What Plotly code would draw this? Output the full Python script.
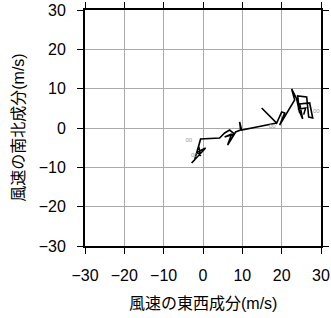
import plotly.graph_objects as go

# Wind hodograph: east-west (u) and north-south (v) components, m/s
u = [-0.61, -2.14, -2.90, 0.66, -1.37, -0.61, -1.10, -0.61, 4.22, 5.50, 6.77, 8.04, 5.50, 7.28, 6.26,
     8.30, 9.57, 9.31, 9.82, 18.73, 14.91, 18.73, 20.00, 20.76, 19.49, 23.31, 22.54, 23.82,
     24.58, 24.07, 26.36, 26.87, 27.89, 27.12, 24.58, 25.34, 24.30, 26.10, 25.60]
v = [-2.80, -8.14, -8.91, -5.09, -6.11, -7.12, -4.60, -2.80, -2.54, -1.27, -0.51, -1.53, -2.29, -1.53, -4.33,
     -1.02, -0.51, 1.53, -0.51, 1.27, 5.09, 1.27, 4.07, 3.82, 0.76, 7.12, 9.92, 7.38,
     3.82, 8.14, 7.89, 2.80, 2.54, 6.36, 6.11, 2.29, 4.80, 5.10, 3.40]

label_u = [-3.6, -2.2, 17.6, 28.8]
label_v = [-3.3, -7.0, 0.5, 4.2]
label_text = ["00", "00", "00", "00"]

tick_vals = [-30, -20, -10, 0, 10, 20, 30]

fig = go.Figure()
fig.add_trace(go.Scatter(x=u, y=v, mode="lines",
                         line=dict(color="black", width=1.6), hoverinfo="skip",
                         showlegend=False))
fig.add_trace(go.Scatter(x=label_u, y=label_v, mode="text", text=label_text,
                         textfont=dict(size=6, color="#999999", family="Liberation Sans"),
                         showlegend=False, hoverinfo="skip"))

axis_common = dict(range=[-30, 30], tickvals=tick_vals, ticks="outside", ticklen=6,
                   tickwidth=1, tickcolor="black", mirror="allticks", showline=True,
                   linecolor="black", linewidth=2, showgrid=True, gridcolor="#aaaaaa",
                   gridwidth=1, zeroline=False,
                   tickfont=dict(family="Liberation Sans, Arial", size=16, color="black"),
                   ticklabelstandoff=8)

fig.update_xaxes(**axis_common)
fig.update_yaxes(**axis_common)

title_font = dict(family="Liberation Sans, Noto Sans CJK JP", size=16, color="black")

fig.update_layout(
    width=331, height=318,
    margin=dict(l=85, r=10, t=10, b=72, autoexpand=False),
    plot_bgcolor="white", paper_bgcolor="white",
    annotations=[
        dict(text="風速の東西成分(m/s)", xref="paper", yref="paper", x=0.5, y=-0.245,
             xanchor="center", yanchor="middle", showarrow=False, font=title_font),
        dict(text="風速の南北成分(m/s)", xref="paper", yref="paper", x=-0.285, y=0.5,
             xanchor="center", yanchor="middle", showarrow=False, textangle=-90,
             font=title_font),
    ],
)

fig.write_html("out.html")
